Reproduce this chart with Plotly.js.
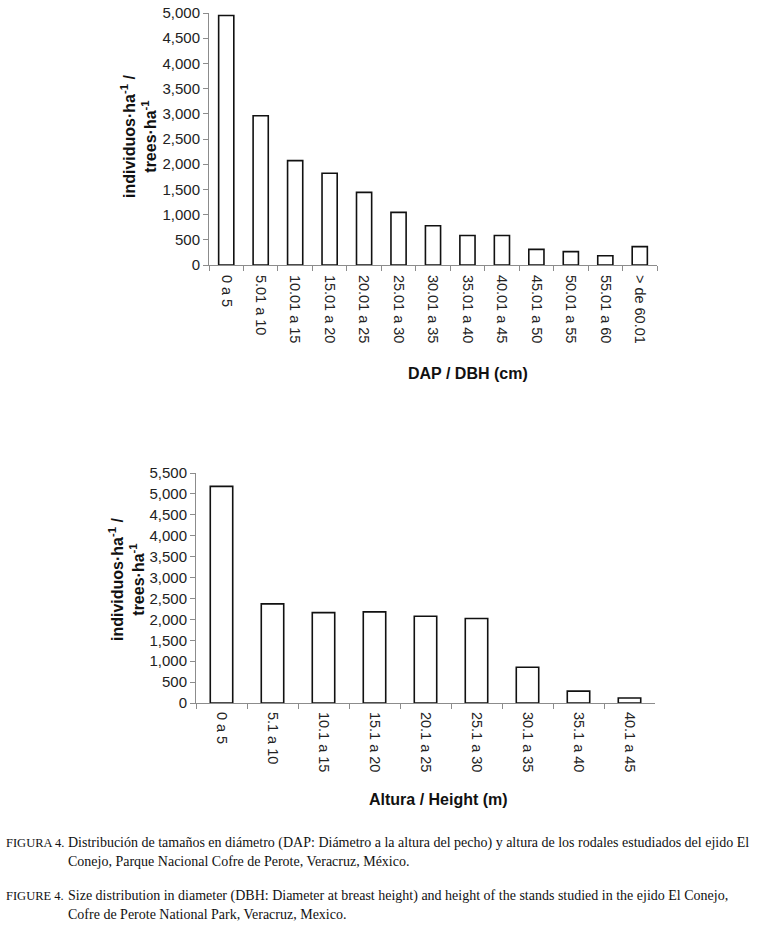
<!DOCTYPE html>
<html>
<head>
<meta charset="utf-8">
<script src="https://cdn.plot.ly/plotly-3.0.1.min.js"></script>
<style>
  html, body { margin: 0; padding: 0; background: #ffffff; }
  #chart { width: 761px; height: 928px; }
</style>
</head>
<body>
<div id="chart"></div>
<script>
// ---- Data ----
const dapCategories = ["0 a 5", "5.01 a 10", "10.01 a 15", "15.01 a 20", "20.01 a 25", "25.01 a 30",
  "30.01 a 35", "35.01 a 40", "40.01 a 45", "45.01 a 50", "50.01 a 55", "55.01 a 60", "> de 60.01"];
const dapValues = [4950, 2960, 2070, 1820, 1440, 1045, 780, 585, 585, 310, 265, 185, 365];

const alturaCategories = ["0 a 5", "5.1 a 10", "10.1 a 15", "15.1 a 20", "20.1 a 25", "25.1 a 30",
  "30.1 a 35", "35.1 a 40", "40.1 a 45"];
const alturaValues = [5180, 2370, 2160, 2180, 2075, 2020, 855, 285, 120];

const dapTicks = [0, 500, 1000, 1500, 2000, 2500, 3000, 3500, 4000, 4500, 5000];
const alturaTicks = [0, 500, 1000, 1500, 2000, 2500, 3000, 3500, 4000, 4500, 5000, 5500];

const yTitleLine1 = "individuos·ha<sup>-1</sup> /";
const yTitleLine2 = "trees·ha<sup>-1</sup>";
const dapXTitle = "DAP / DBH (cm)";
const alturaXTitle = "Altura / Height (m)";
const captionLabelES = "FIGURA 4.";
const captionLabelEN = "FIGURE 4.";
const captionES1 = "Distribución de tamaños en diámetro (DAP: Diámetro a la altura del pecho) y altura de los rodales estudiados del ejido El";
const captionES2 = "Conejo, Parque Nacional Cofre de Perote, Veracruz, México.";
const captionEN1 = "Size distribution in diameter (DBH: Diameter at breast height) and height of the stands studied in the ejido El Conejo,";
const captionEN2 = "Cofre de Perote National Park, Veracruz, Mexico.";

// ---- Layout helpers (pixel -> paper) ----
const W = 761, H = 928;
const px = v => v / W;
const py = v => 1 - v / H;

const sans = "Liberation Sans, Arial, sans-serif";
const serif = "Liberation Serif, Times New Roman, serif";
const axisGray = "#8c8c8c";

const barStyle = {
  type: "bar",
  marker: { color: "#ffffff", line: { color: "#111111", width: 1.6 } },
  hoverinfo: "skip",
  showlegend: false
};

const traces = [
  Object.assign({}, barStyle, { x: dapCategories, y: dapValues, xaxis: "x", yaxis: "y" }),
  Object.assign({}, barStyle, { x: alturaCategories, y: alturaValues, xaxis: "x2", yaxis: "y2" })
];

function xAxis(domain, anchor, standoff) {
  return {
    domain: domain, anchor: anchor, type: "category",
    showline: true, linecolor: axisGray, linewidth: 1,
    ticks: "outside", tickson: "boundaries", ticklen: 5, tickcolor: axisGray,
    tickangle: 90, showgrid: false, zeroline: false,
    ticklabelstandoff: standoff,
    tickfont: { family: sans, size: 14.5, color: "#222" },
    fixedrange: true
  };
}
function yAxis(domain, anchor, range, ticks) {
  return {
    domain: domain, anchor: anchor, range: range,
    showline: true, linecolor: axisGray, linewidth: 1,
    ticks: "outside", ticklen: 5, tickcolor: axisGray,
    tickmode: "array", tickvals: ticks, tickformat: ",d",
    showgrid: false, zeroline: false,
    tickfont: { family: sans, size: 15, color: "#222" },
    fixedrange: true
  };
}

const annFontTitle = { family: sans, size: 16, color: "#111" };
const capFont = { family: serif, size: 14, color: "#111" };
const capLabelFont = { family: serif, size: 12.5, color: "#111" };

function capLine(text, x, y, font) {
  return { text: text, xref: "paper", yref: "paper", x: px(x), y: py(y),
    xanchor: "left", yanchor: "middle", showarrow: false, font: font || capFont, align: "left" };
}
function yTitle(x, y) {
  return { text: "<b>" + yTitleLine1 + "</b><br><b>" + yTitleLine2 + "</b>", xref: "paper", yref: "paper",
    x: px(x), y: py(y), textangle: -90, showarrow: false, font: annFontTitle,
    xanchor: "center", yanchor: "middle" };
}
function xTitle(text, x, y) {
  return { text: "<b>" + text + "</b>", xref: "paper", yref: "paper",
    x: px(x), y: py(y), showarrow: false, font: annFontTitle, xanchor: "center", yanchor: "middle" };
}

const layout = {
  width: W, height: H,
  margin: { l: 0, r: 0, t: 0, b: 0 },
  paper_bgcolor: "#ffffff", plot_bgcolor: "#ffffff",
  separators: ".,",
  bargap: 0.56,
  xaxis: xAxis([px(209), px(657)], "y", 6),
  yaxis: yAxis([py(265), py(13)], "x", [0, 5000], dapTicks),
  xaxis2: xAxis([px(196), px(655)], "y2", 5),
  yaxis2: yAxis([py(703), py(473)], "x2", [0, 5500], alturaTicks),
  annotations: [
    yTitle(138, 137),
    xTitle(dapXTitle, 468, 373),
    yTitle(126, 580),
    xTitle(alturaXTitle, 438, 799),
    capLine(captionLabelES, 4, 843, capLabelFont),
    capLine(captionES1, 66, 843),
    capLine(captionES2, 66, 861),
    capLine(captionLabelEN, 4, 896, capLabelFont),
    capLine(captionEN1, 66, 896),
    capLine(captionEN2, 66, 914)
  ]
};

Plotly.newPlot("chart", traces, layout, { staticPlot: true, displayModeBar: false });
</script>
</body>
</html>
